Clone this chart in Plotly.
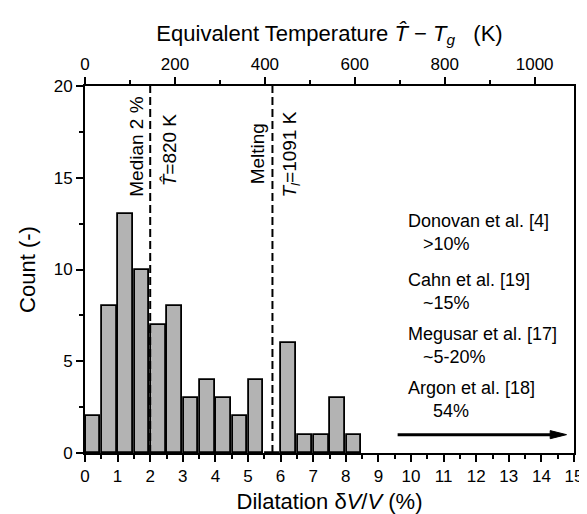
import plotly.graph_objects as go

# Histogram data: bin centers (dilatation %) and counts
bin_centers = [0.25, 0.75, 1.25, 1.75, 2.25, 2.75, 3.25, 3.75, 4.25, 4.75,
               5.25, 5.75, 6.25, 6.75, 7.25, 7.75, 8.25]
counts = [2, 8, 13, 10, 7, 8, 3, 4, 3, 2, 4, 0, 6, 1, 1, 3, 1]

median_dilatation = 2.0
melting_dilatation = 5.75
k_per_percent = 72.5          # equivalent temperature (K) per % dilatation
x_max = 15
y_max = 20

# literature values arrow (Argon et al., 54 % -> off scale)
arrow_start = 9.59
arrow_end = 14.77
arrow_level = 1.0

FONT = "Liberation Sans, Arial, sans-serif"

fig = go.Figure()
fig.add_trace(go.Bar(
    x=bin_centers, y=counts, width=0.45,
    marker=dict(color="#b3b3b3", line=dict(color="black", width=1.8)),
    showlegend=False, hoverinfo="skip",
))
# invisible trace to activate the top axis
fig.add_trace(go.Scatter(x=[0, x_max * k_per_percent], y=[0, 0], xaxis="x2",
                         mode="markers", marker=dict(opacity=0),
                         showlegend=False, hoverinfo="skip"))

for xv in (median_dilatation, melting_dilatation):
    fig.add_shape(type="line", x0=xv, x1=xv, y0=0, y1=y_max, xref="x", yref="y",
                  line=dict(color="black", width=2, dash="8px,4px"))

vtexts = [
    ("Median 2 %", 1.59, 16.68),
    ("<i>T\u0302</i>=820 K", 2.58, 16.5),
    ("Melting", 5.29, 16.3),
    ("<i>T</i><sub><i>l</i></sub>=1091 K", 6.31, 16.25),
]
for txt, xv, yv in vtexts:
    fig.add_annotation(x=xv, y=yv, text=txt, textangle=-90, showarrow=False,
                       font=dict(family=FONT, size=19, color="black"))

refs = [
    ("Donovan et al. [4]", 3, ">10%", 12.02),
    ("Cahn et al. [19]", 3, "~15%", 8.79),
    ("Megusar et al. [17]", 3, "~5-20%", 5.88),
    ("Argon et al. [18]", 5, "54%", 2.91),
]
for name, indent, val, yv in refs:
    fig.add_annotation(x=9.86, y=yv, text=name + "<br>" + "\u00a0" * indent + val,
                       showarrow=False, xanchor="left", yanchor="middle", align="left",
                       font=dict(family=FONT, size=18, color="black"))

# arrow: shaft + elongated head
head_len = 0.5
head_half = 0.22
fig.add_shape(type="line", x0=arrow_start, x1=arrow_end - head_len + 0.05,
              y0=arrow_level, y1=arrow_level, xref="x", yref="y",
              line=dict(color="black", width=3))
fig.add_shape(type="path", xref="x", yref="y",
              path=(f"M {arrow_end - head_len},{arrow_level - head_half} "
                    f"L {arrow_end},{arrow_level} "
                    f"L {arrow_end - head_len},{arrow_level + head_half} Z"),
              fillcolor="black", line=dict(color="black", width=1))

axis_common = dict(showline=True, linecolor="black", linewidth=1.8, ticks="outside",
                   ticklen=7, tickwidth=1.6, tickcolor="black", showgrid=False,
                   zeroline=False, tickfont=dict(family=FONT, size=17, color="black"))
minor_common = dict(ticks="outside", ticklen=4, tickcolor="black", tickwidth=1.6)

fig.update_layout(
    width=587, height=514,
    margin=dict(l=77, r=12, t=78, b=65),
    paper_bgcolor="white", plot_bgcolor="white",
    bargap=0,
    xaxis=dict(range=[0, x_max], dtick=1, tick0=0,
               minor=dict(dtick=0.5, **minor_common),
               title=dict(text="Dilatation \u03b4<i>V</i>/<i>V</i> (%)",
                          font=dict(family=FONT, size=22, color="black"), standoff=8),
               **axis_common),
    xaxis2=dict(range=[0, x_max * k_per_percent], overlaying="x", side="top", anchor="y",
                dtick=200, tick0=0,
                minor=dict(dtick=100, **minor_common),
                title=dict(text="Equivalent Temperature <i>T\u0302</i> \u2212 <i>T</i><sub><i>g</i></sub>\u00a0\u00a0 (K)",
                           font=dict(family=FONT, size=22, color="black"), standoff=8),
                **axis_common),
    yaxis=dict(range=[0, y_max], dtick=5, tick0=0, mirror=True,
               minor=dict(dtick=2.5, **minor_common),
               title=dict(text="Count (-)", font=dict(family=FONT, size=22, color="black"),
                          standoff=12),
               **axis_common),
)

fig.write_html("out.html")
